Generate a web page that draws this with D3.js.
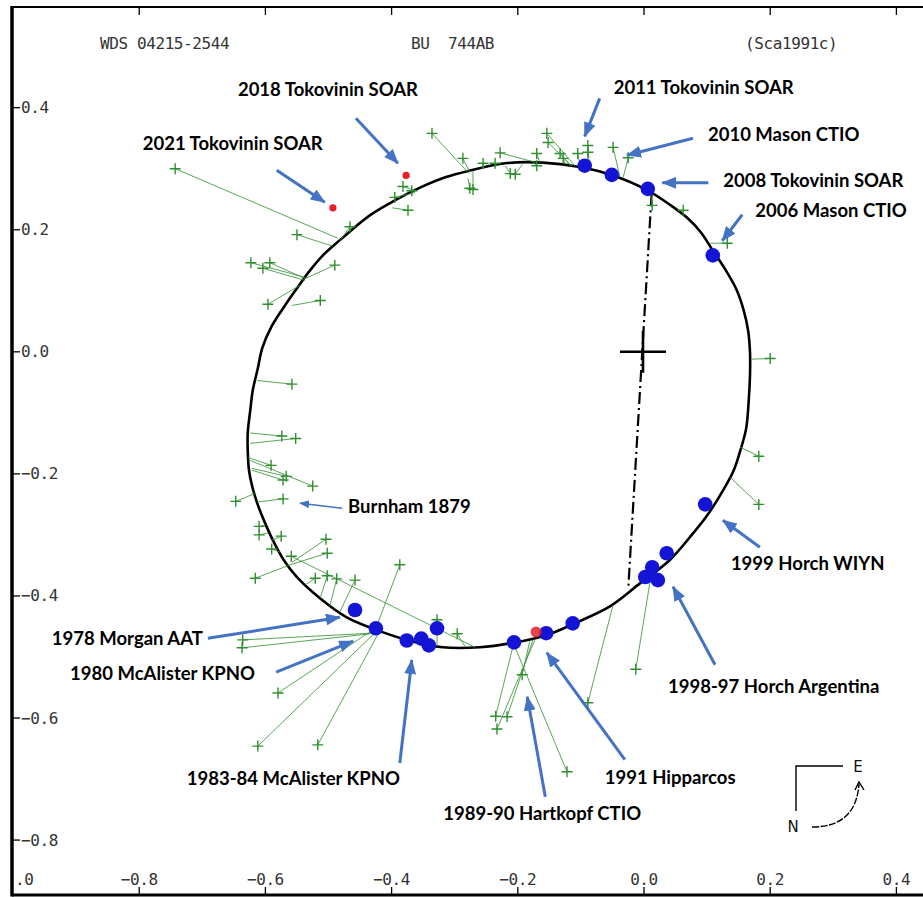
<!DOCTYPE html>
<html>
<head>
<meta charset="utf-8">
<script src="https://cdn.jsdelivr.net/npm/d3@7"></script>
<style>
	body { margin: 0; background: #fff; }
	svg { display: block; }
</style>
</head>
<body>
<svg id="chart" width="923" height="897"></svg>
<script>
const xTicks = [-1.0, -0.8, -0.6, -0.4, -0.2, 0.0, 0.2, 0.4];
const yTicks = [0.4, 0.2, 0.0, -0.2, -0.4, -0.6, -0.8];
const titles = ['WDS 04215-2544', 'BU\u00a0\u00a0744AB', '(Sca1991c)'];

// apparent orbit (arcsec)
const orbit = [
	[-0.276, 0.297], [-0.220, 0.309], [-0.160, 0.310], [-0.097, 0.302],
	[-0.049, 0.289], [0.005, 0.265], [0.041, 0.241], [0.068, 0.220],
	[0.090, 0.196], [0.109, 0.166], [0.130, 0.133], [0.147, 0.101],
	[0.158, 0.068], [0.165, 0.035], [0.168, -0.001], [0.168, -0.038],
	[0.166, -0.079], [0.162, -0.125], [0.152, -0.164], [0.141, -0.197],
	[0.116, -0.243], [0.098, -0.271], [0.078, -0.297], [0.041, -0.341],
	[-0.006, -0.379], [-0.054, -0.417], [-0.106, -0.443], [-0.154, -0.464],
	[-0.208, -0.477], [-0.260, -0.484], [-0.319, -0.484], [-0.376, -0.472],
	[-0.423, -0.456], [-0.471, -0.435], [-0.513, -0.404], [-0.550, -0.369],
	[-0.571, -0.341], [-0.588, -0.309], [-0.602, -0.277], [-0.613, -0.248],
	[-0.621, -0.220], [-0.626, -0.194], [-0.628, -0.161], [-0.628, -0.133],
	[-0.624, -0.096], [-0.620, -0.063], [-0.612, -0.027], [-0.605, 0.006],
	[-0.590, 0.042], [-0.569, 0.076], [-0.548, 0.107], [-0.528, 0.135],
	[-0.507, 0.160], [-0.482, 0.183], [-0.434, 0.224], [-0.395, 0.248],
	[-0.355, 0.269], [-0.315, 0.286]
];

// line of nodes
const nodeLine = [[0.012, 0.258], [-0.025, -0.389]];

// micrometer measures: observed x, y -> computed x, y
const measures = [
	[-0.743, 0.300, -0.485, 0.186], [-0.550, 0.192, -0.493, 0.173],
	[-0.466, 0.205, -0.482, 0.182], [-0.623, 0.146, -0.537, 0.122],
	[-0.604, 0.137, -0.537, 0.117], [-0.593, 0.146, -0.537, 0.120],
	[-0.490, 0.142, -0.537, 0.120], [-0.596, 0.078, -0.545, 0.109],
	[-0.513, 0.084, -0.558, 0.076], [-0.382, 0.271, -0.363, 0.264],
	[-0.368, 0.264, -0.358, 0.264], [-0.395, 0.253, -0.363, 0.261],
	[-0.374, 0.232, -0.399, 0.236], [-0.336, 0.358, -0.279, 0.294],
	[-0.287, 0.317, -0.276, 0.294], [-0.276, 0.268, -0.279, 0.284],
	[-0.255, 0.309, -0.255, 0.300], [-0.271, 0.266, -0.271, 0.297],
	[-0.236, 0.309, -0.233, 0.304], [-0.228, 0.326, -0.170, 0.310],
	[-0.212, 0.292, -0.220, 0.305], [-0.204, 0.291, -0.193, 0.307],
	[-0.170, 0.325, -0.165, 0.310], [-0.170, 0.305, -0.176, 0.310],
	[-0.154, 0.358, -0.109, 0.304], [-0.152, 0.343, -0.114, 0.304],
	[-0.133, 0.325, -0.117, 0.305], [-0.128, 0.317, -0.125, 0.307],
	[-0.105, 0.325, -0.101, 0.304], [-0.089, 0.338, -0.086, 0.300],
	[-0.089, 0.327, -0.089, 0.300], [-0.049, 0.335, -0.038, 0.286],
	[-0.025, 0.318, -0.033, 0.286], [0.013, 0.240, 0.010, 0.263],
	[0.062, 0.232, 0.062, 0.227], [0.132, 0.178, 0.105, 0.178],
	[0.200, -0.011, 0.171, -0.012], [0.182, -0.171, 0.152, -0.156],
	[0.182, -0.250, 0.136, -0.205], [-0.013, -0.520, 0.010, -0.374],
	[-0.089, -0.575, -0.049, -0.415], [-0.235, -0.597, -0.208, -0.484],
	[-0.217, -0.598, -0.176, -0.472], [-0.233, -0.618, -0.173, -0.472],
	[-0.122, -0.688, -0.204, -0.485], [-0.193, -0.529, -0.181, -0.474],
	[-0.387, -0.349, -0.426, -0.456], [-0.517, -0.644, -0.418, -0.456],
	[-0.612, -0.646, -0.422, -0.456], [-0.580, -0.559, -0.426, -0.453],
	[-0.636, -0.472, -0.431, -0.461], [-0.637, -0.485, -0.434, -0.462],
	[-0.558, -0.053, -0.613, -0.047], [-0.574, -0.138, -0.624, -0.133],
	[-0.552, -0.142, -0.624, -0.150], [-0.591, -0.186, -0.628, -0.173],
	[-0.567, -0.204, -0.621, -0.191], [-0.572, -0.210, -0.621, -0.194],
	[-0.525, -0.220, -0.624, -0.178], [-0.647, -0.245, -0.616, -0.232],
	[-0.572, -0.241, -0.613, -0.246], [-0.610, -0.286, -0.601, -0.284],
	[-0.610, -0.300, -0.596, -0.297], [-0.575, -0.302, -0.590, -0.309],
	[-0.590, -0.323, -0.577, -0.328], [-0.504, -0.307, -0.558, -0.345],
	[-0.502, -0.330, -0.561, -0.349], [-0.616, -0.371, -0.561, -0.349],
	[-0.559, -0.335, -0.268, -0.484], [-0.521, -0.371, -0.537, -0.382],
	[-0.502, -0.367, -0.513, -0.403], [-0.487, -0.372, -0.498, -0.417],
	[-0.458, -0.374, -0.482, -0.426], [-0.328, -0.439, -0.328, -0.480],
	[-0.296, -0.462, -0.284, -0.482]
];

// speckle / interferometric measures
const speckle = [
	[-0.094, 0.305], [-0.051, 0.290], [0.006, 0.267], [0.109, 0.158],
	[0.097, -0.250], [0.036, -0.330], [0.013, -0.353], [0.002, -0.369],
	[0.022, -0.374], [-0.113, -0.445], [-0.155, -0.461], [-0.206, -0.476],
	[-0.328, -0.453], [-0.341, -0.481], [-0.353, -0.470], [-0.376, -0.473],
	[-0.425, -0.453], [-0.458, -0.423]
];

// recent SOAR measures (red) and Hipparcos
const recent = [[-0.493, 0.236], [-0.377, 0.289]];
const hipparcos = [[-0.171, -0.459]];

// annotations: label, arrow tip (arcsec), tail and label offsets (px)
const notes = [
	{ text: '2018 Tokovinin SOAR', tip: [-0.390, 0.309], tail: [-42, -45], at: [-160, -72] },
	{ text: '2021 Tokovinin SOAR', tip: [-0.506, 0.245], tail: [-48, -32], at: [-182, -57] },
	{ text: '2011 Tokovinin SOAR', tip: [-0.094, 0.353], tail: [15, -38], at: [29, -47] },
	{ text: '2010 Mason CTIO', tip: [-0.027, 0.322], tail: [66, -17], at: [81, -19] },
	{ text: '2008 Tokovinin SOAR', tip: [0.029, 0.277], tail: [46, 0], at: [61, -1] },
	{ text: '2006 Mason CTIO', tip: [0.124, 0.182], tail: [20, -26], at: [33, -28] },
	{ text: 'Burnham 1879', tip: [-0.545, -0.248], tail: [42, 5], at: [48, 5], thin: true },
	{ text: '1999 Horch WIYN', tip: [0.125, -0.276], tail: [37, 27], at: [8, 45] },
	{ text: '1998-97 Horch Argentina', tip: [0.046, -0.385], tail: [42, 78], at: [-5, 101] },
	{ text: '1978 Morgan AAT', tip: [-0.482, -0.435], tail: [-132, 21], at: [-288, 23] },
	{ text: '1980 McAlister KPNO', tip: [-0.461, -0.474], tail: [-77, 31], at: [-283, 34] },
	{ text: '1983-84 McAlister KPNO', tip: [-0.368, -0.505], tail: [-12, 103], at: [-225, 120] },
	{ text: '1991 Hipparcos', tip: [-0.154, -0.493], tail: [78, 107], at: [58, 127] },
	{ text: '1989-90 Hartkopf CTIO', tip: [-0.185, -0.565], tail: [18, 100], at: [-84, 119] }
];

const width = 923;
const height = 897;
const GREEN = '#2f8f2f';
const BLUE = '#1414d6';
const ARROW = '#4472c4';
const MONO = '"DejaVu Sans Mono", monospace';

const x = d3.scaleLinear([-1.0, 0.5], [13, 959.5]);
const y = d3.scaleLinear([-0.89, 0.565], [895, 7]);

const svg = d3.select('#chart');

const defs = svg.append('defs');
defs.append('marker')
	.attr('id', 'head').attr('markerUnits', 'userSpaceOnUse')
	.attr('markerWidth', 15).attr('markerHeight', 12)
	.attr('refX', 14).attr('refY', 6).attr('orient', 'auto')
	.append('path').attr('d', 'M0,0 L15,6 L0,12 Z').attr('fill', ARROW);
defs.append('marker')
	.attr('id', 'headThin').attr('markerUnits', 'userSpaceOnUse')
	.attr('markerWidth', 10).attr('markerHeight', 8)
	.attr('refX', 9).attr('refY', 4).attr('orient', 'auto')
	.append('path').attr('d', 'M0,0 L10,4 L0,8 Z').attr('fill', ARROW);

/** FRAME *******************************************************************/
const left = x(-1.0) - 1;
svg.append('line').attr('x1', left).attr('x2', width).attr('y1', y(0.565)).attr('y2', y(0.565))
	.attr('stroke', '#000').attr('stroke-width', 2);
svg.append('line').attr('x1', left).attr('x2', width).attr('y1', y(-0.89)).attr('y2', y(-0.89))
	.attr('stroke', '#000').attr('stroke-width', 3);
svg.append('line').attr('x1', left).attr('x2', left).attr('y1', y(0.565) - 1).attr('y2', y(-0.89) + 1.5)
	.attr('stroke', '#000').attr('stroke-width', 3.5);

/** TICKS *******************************************************************/
const tickG = svg.append('g').attr('stroke', '#000').attr('stroke-width', 1.3);
tickG.selectAll('.top').data(xTicks.slice(1)).enter().append('line')
	.attr('x1', (d) => x(d)).attr('x2', (d) => x(d))
	.attr('y1', y(0.565)).attr('y2', y(0.565) + 8);
tickG.selectAll('.bottom').data(xTicks.slice(1)).enter().append('line')
	.attr('x1', (d) => x(d)).attr('x2', (d) => x(d))
	.attr('y1', y(-0.89)).attr('y2', y(-0.89) - 8);
tickG.selectAll('.left').data(yTicks).enter().append('line')
	.attr('x1', left).attr('x2', left + 8)
	.attr('y1', (d) => y(d)).attr('y2', (d) => y(d));

const fmt = d3.format('.1f');
// the -1.0 label sits under the left frame, only ".0" shows
const xLabel = (d) => (d === -1.0 ? '.0' : fmt(d));
const labelG = svg.append('g')
	.attr('font-family', MONO).attr('font-size', 16).attr('letter-spacing', -0.4)
	.attr('fill', '#333');
labelG.selectAll('.xlab').data(xTicks).enter().append('text')
	.attr('x', (d) => (d === -1.0 ? x(d) + 2 : x(d))).attr('y', 880)
	.attr('text-anchor', (d) => (d === -1.0 ? 'start' : 'middle'))
	.attr('dominant-baseline', 'middle')
	.text(xLabel);
labelG.selectAll('.ylab').data(yTicks).enter().append('text')
	.attr('x', left + 9).attr('y', (d) => y(d) + 1)
	.attr('dominant-baseline', 'middle')
	.text((d) => fmt(d));

svg.append('g')
	.attr('font-family', MONO).attr('font-size', 16).attr('letter-spacing', -0.4)
	.attr('fill', '#333')
	.selectAll('text').data(titles).enter().append('text')
	.attr('x', (d, i) => [100, 411, 745][i]).attr('y', 44)
	.attr('dominant-baseline', 'middle')
	.text((d) => d);

/** ORBIT *******************************************************************/
svg.append('path')
	.attr('fill', 'none').attr('stroke', '#000').attr('stroke-width', 2.6)
	.attr('d', d3.line().x((d) => x(d[0])).y((d) => y(d[1])).curve(d3.curveCatmullRomClosed)(orbit));

svg.append('line')
	.attr('x1', x(nodeLine[0][0])).attr('y1', y(nodeLine[0][1]))
	.attr('x2', x(nodeLine[1][0])).attr('y2', y(nodeLine[1][1]))
	.attr('stroke', '#000').attr('stroke-width', 2.2)
	.attr('stroke-dasharray', '12,4,2,4');

// primary
svg.append('path')
	.attr('d', `M${x(0) - 24},${y(0)} H${x(0) + 22} M${x(0) - 1},${y(0) - 21} V${y(0) + 21}`)
	.attr('stroke', '#000').attr('stroke-width', 2.6);

/** MEASURES ****************************************************************/
const measG = svg.append('g');
measG.selectAll('.oc').data(measures).enter().append('line')
	.attr('x1', (d) => x(d[0])).attr('y1', (d) => y(d[1]))
	.attr('x2', (d) => x(d[2])).attr('y2', (d) => y(d[3]))
	.attr('stroke', '#3c963c').attr('stroke-width', 1).attr('opacity', 0.85);
measG.selectAll('.plus').data(measures).enter().append('path')
	.attr('d', (d) => `M${x(d[0]) - 5.5},${y(d[1])} h11 M${x(d[0])},${y(d[1]) - 5.5} v11`)
	.attr('stroke', GREEN).attr('stroke-width', 1.4);

svg.append('g').selectAll('circle').data(speckle).enter().append('circle')
	.attr('cx', (d) => x(d[0])).attr('cy', (d) => y(d[1])).attr('r', 7.3)
	.attr('fill', BLUE);

svg.append('g').selectAll('circle').data(hipparcos).enter().append('circle')
	.attr('cx', (d) => x(d[0])).attr('cy', (d) => y(d[1])).attr('r', 5.5)
	.attr('fill', '#e0202a').attr('opacity', 0.85);

svg.append('g').selectAll('circle').data(recent).enter().append('circle')
	.attr('cx', (d) => x(d[0])).attr('cy', (d) => y(d[1])).attr('r', 3.6)
	.attr('fill', '#ee1c24');

/** ANNOTATIONS *************************************************************/
const noteG = svg.append('g');
notes.forEach((n) => {
	const tx = x(n.tip[0]);
	const ty = y(n.tip[1]);
	noteG.append('line')
		.attr('x1', tx + n.tail[0]).attr('y1', ty + n.tail[1])
		.attr('x2', tx).attr('y2', ty)
		.attr('stroke', ARROW).attr('stroke-width', n.thin ? 1.4 : 3)
		.attr('marker-end', n.thin ? 'url(#headThin)' : 'url(#head)');
	noteG.append('text')
		.attr('x', tx + n.at[0]).attr('y', ty + n.at[1])
		.attr('dominant-baseline', 'middle')
		.attr('font-family', 'Lato, "Open Sans", sans-serif')
		.attr('font-weight', 'bold').attr('font-size', 18.5)
		.attr('fill', '#000')
		.text(n.text);
});

/** COMPASS *****************************************************************/
const comp = svg.append('g').attr('fill', 'none').attr('stroke', '#000').attr('stroke-width', 1.4);
comp.append('path').attr('d', 'M843,766 H796 V811');
comp.append('path').attr('d', 'M812,827 Q856,827 859,784').attr('stroke-dasharray', '7,1.5');
comp.append('path').attr('d', 'M855,790 L859,782 L864,790');
svg.append('g').attr('font-family', '"DejaVu Sans", sans-serif').attr('font-size', 15).attr('fill', '#111')
	.selectAll('text').data([['E', 858, 767], ['N', 793, 827]]).enter().append('text')
	.attr('x', (d) => d[1]).attr('y', (d) => d[2])
	.attr('text-anchor', 'middle').attr('dominant-baseline', 'middle')
	.text((d) => d[0]);
</script>
</body>
</html>
